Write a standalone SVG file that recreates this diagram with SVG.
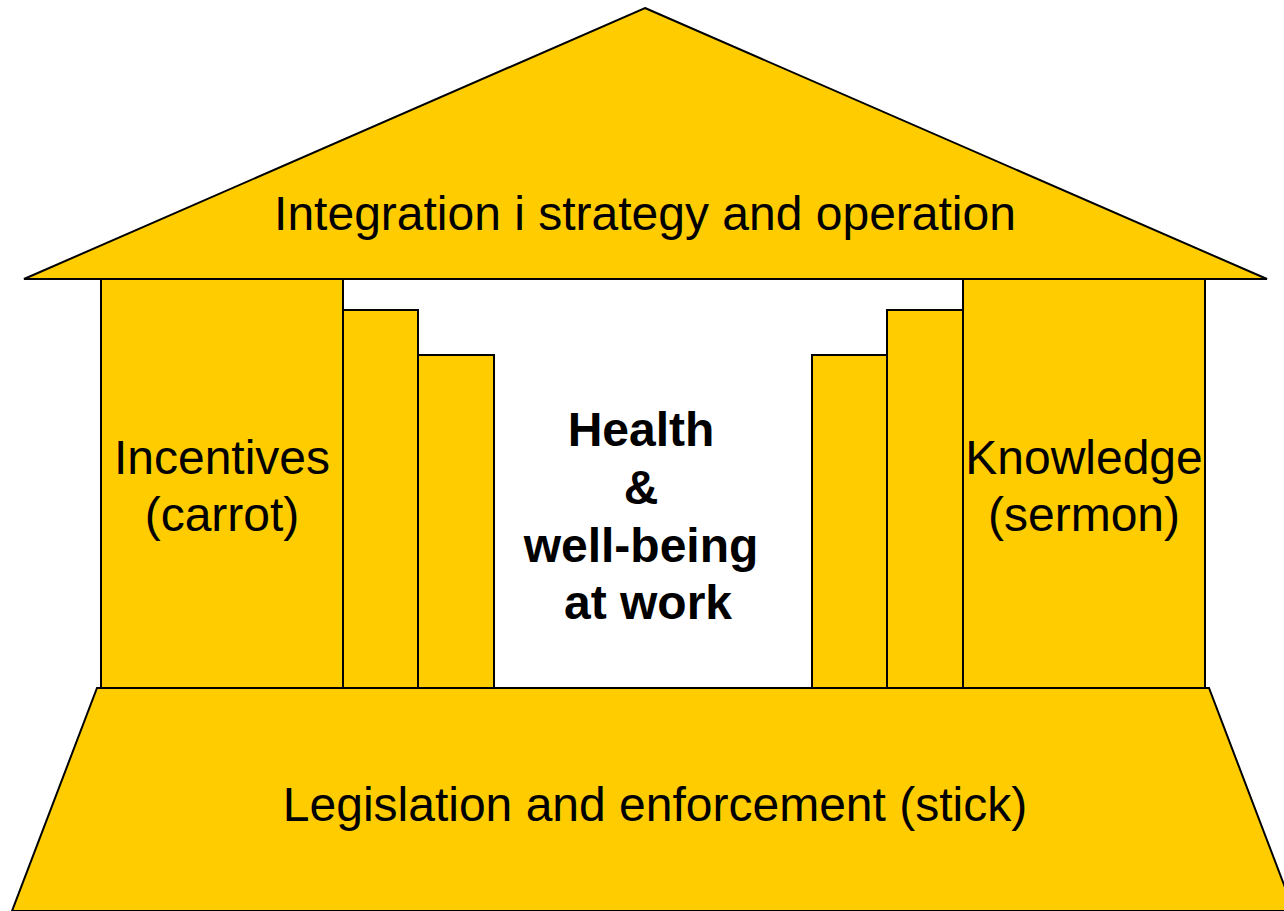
<svg xmlns="http://www.w3.org/2000/svg" width="1284" height="911" viewBox="0 0 1284 911">
<style>
.s{fill:#FFCC00;stroke:#000;stroke-width:2;stroke-linejoin:miter}
.t{font-family:"Liberation Sans",Arial,sans-serif;font-size:48px;fill:#000;text-anchor:middle}
.b{font-weight:bold}
</style>
<rect width="1284" height="911" fill="#fff"/>
<g id="roof"><polygon class="s" points="645,8 1267,279 24,279"/><text class="t" x="645" y="230">Integration i strategy and operation</text></g>
<g id="pillar-incentives"><rect class="s" x="101" y="279" width="242" height="409"/><text class="t" x="222" y="474">Incentives</text><text class="t" x="222" y="531">(carrot)</text></g>
<g id="pillar-l2"><rect class="s" x="343" y="310" width="75" height="378"/></g>
<g id="pillar-l3"><rect class="s" x="418" y="355" width="76" height="333"/></g>
<g id="pillar-r3"><rect class="s" x="812" y="355" width="75" height="333"/></g>
<g id="pillar-r2"><rect class="s" x="887" y="310" width="76" height="378"/></g>
<g id="pillar-knowledge"><rect class="s" x="963" y="279" width="242" height="409"/><text class="t" x="1084" y="474">Knowledge</text><text class="t" x="1084" y="531">(sermon)</text></g>
<g id="center"><text class="t b" x="641" y="446">Health</text><text class="t b" x="641" y="504">&amp;</text><text class="t b" x="641" y="562">well-being</text><text class="t b" x="648" y="619">at work</text></g>
<g id="base"><polygon class="s" points="97,688 1209,688 1294,911 12,911"/><text class="t" x="655" y="821">Legislation and enforcement (stick)</text></g>
<g id="connectors"/>
</svg>
